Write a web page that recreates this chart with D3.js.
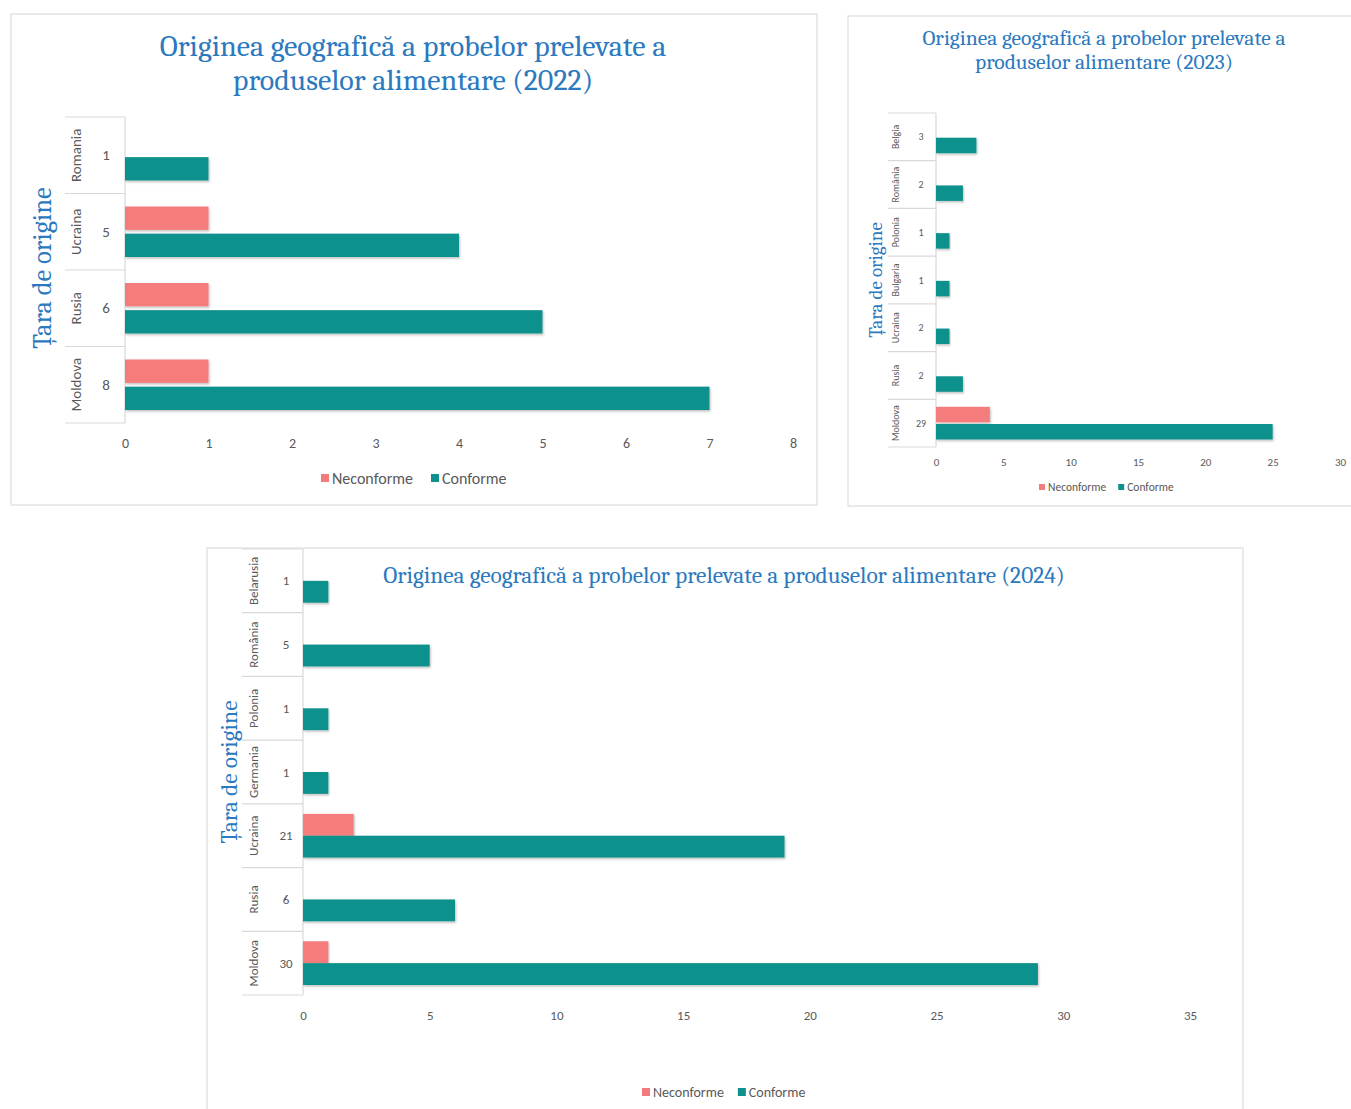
<!DOCTYPE html>
<html>
<head>
<meta charset="utf-8">
<script src="https://cdn.jsdelivr.net/npm/d3@7"></script>
<style>
  body { margin: 0; background: #fff; }
  svg { display: block; }
</style>
</head>
<body>
<script>
// ---- data ----
const series = ["Neconforme", "Conforme"];
const colors = ["#f47b7b", "#0e918c"];

const countries2022 = ["Romania", "Ucraina", "Rusia", "Moldova"];
const totals2022 = [1, 5, 6, 8];
const neconforme2022 = [0, 1, 1, 1];
const conforme2022 = [1, 4, 5, 7];
const ticks2022 = [0, 1, 2, 3, 4, 5, 6, 7, 8];

const countries2023 = ["Belgia", "România", "Polonia", "Bulgaria", "Ucraina", "Rusia", "Moldova"];
const totals2023 = [3, 2, 1, 1, 2, 2, 29];
const neconforme2023 = [0, 0, 0, 0, 0, 0, 4];
const conforme2023 = [3, 2, 1, 1, 1, 2, 25];
const ticks2023 = [0, 5, 10, 15, 20, 25, 30];

const countries2024 = ["Belarusia", "România", "Polonia", "Germania", "Ucraina", "Rusia", "Moldova"];
const totals2024 = [1, 5, 1, 1, 21, 6, 30];
const neconforme2024 = [0, 0, 0, 0, 2, 0, 1];
const conforme2024 = [1, 5, 1, 1, 19, 6, 29];
const ticks2024 = [0, 5, 10, 15, 20, 25, 30, 35];

const svg = d3.select("body").append("svg")
  .attr("width", 1351)
  .attr("height", 1109);

const defs = svg.append("defs");
const shadow = defs.append("filter").attr("id", "shadow")
  .attr("x", "-5%").attr("y", "-20%").attr("width", "110%").attr("height", "160%");
shadow.append("feDropShadow")
  .attr("dx", 1).attr("dy", 1.5).attr("stdDeviation", 1.2)
  .attr("flood-color", "#000").attr("flood-opacity", 0.25);

const serif = "Cambria, 'Liberation Serif', serif";
const sans = "Calibri, 'Open Sans', sans-serif";
const titleColor = "#2b79be";
const textGray = "#595959";

function drawPanel(o) {
  const g = svg.append("g");

  g.append("rect")
    .attr("x", o.box[0]).attr("y", o.box[1])
    .attr("width", o.box[2]).attr("height", o.box[3])
    .attr("fill", "#fff").attr("stroke", "#e3e3e3").attr("stroke-width", 1.5);

  // title
  o.title.forEach((line, i) => {
    g.append("text")
      .attr("x", o.titleX).attr("y", o.titleY + i * o.titleGap)
      .attr("text-anchor", "middle").attr("dominant-baseline", "central")
      .attr("font-family", serif).attr("font-size", o.titleSize)
      .attr("fill", titleColor)
      .text(line);
  });

  // y-axis title
  g.append("text")
    .attr("transform", `translate(${o.yTitleX},${o.yTitleY}) rotate(-90)`)
    .attr("text-anchor", "middle").attr("dominant-baseline", "central")
    .attr("font-family", serif).attr("font-size", o.yTitleSize)
    .attr("fill", titleColor)
    .text("Țara de origine");

  const rows = o.countries.map((c, i) => ({
    country: c, total: o.totals[i], values: [o.neconforme[i], o.conforme[i]]
  }));

  const x = d3.scaleLinear().domain(o.domain).range([o.x0, o.x1]);
  const y = d3.scaleBand().domain(o.countries).range([o.yTop, o.yBottom]);
  const inner = d3.scaleBand().domain(series)
    .range([o.barPad, y.bandwidth() - o.barPad])
    .paddingInner(o.barGap);

  // category table lines
  const bounds = o.countries.map(c => y(c)).concat([o.yBottom]);
  g.selectAll(".rowline").data(bounds).join("line")
    .attr("class", "rowline")
    .attr("x1", o.tableX).attr("x2", o.x0)
    .attr("y1", d => d).attr("y2", d => d)
    .attr("stroke", "#d9d9d9").attr("stroke-width", 1.2);
  g.append("line")
    .attr("x1", o.x0).attr("x2", o.x0)
    .attr("y1", o.yTop).attr("y2", o.yBottom)
    .attr("stroke", "#d9d9d9").attr("stroke-width", 1.2);

  // country names
  g.selectAll(".cname").data(rows).join("text")
    .attr("class", "cname")
    .attr("transform", d => `translate(${o.nameX},${y(d.country) + y.bandwidth() / 2}) rotate(-90)`)
    .attr("text-anchor", "middle").attr("dominant-baseline", "central")
    .attr("font-family", sans).attr("font-size", o.nameSize)
    .attr("fill", textGray)
    .text(d => d.country);

  // totals
  g.selectAll(".total").data(rows).join("text")
    .attr("class", "total")
    .attr("x", o.totalX)
    .attr("y", d => y(d.country) + y.bandwidth() / 2 + o.totalDy)
    .attr("text-anchor", "middle").attr("dominant-baseline", "central")
    .attr("font-family", sans).attr("font-size", o.totalSize)
    .attr("fill", textGray)
    .text(d => d.total);

  // bars
  const groups = g.selectAll(".row").data(rows).join("g")
    .attr("class", "row")
    .attr("transform", d => `translate(0,${y(d.country)})`);
  groups.selectAll("rect")
    .data(d => d.values.map((v, i) => ({ key: series[i], value: v, color: colors[i] })).filter(d => d.value > 0))
    .join("rect")
    .attr("x", x(0))
    .attr("y", d => inner(d.key))
    .attr("width", d => x(d.value) - x(0))
    .attr("height", inner.bandwidth())
    .attr("fill", d => d.color)
    .attr("filter", "url(#shadow)");

  // x axis tick labels
  const axis = d3.axisBottom(x).tickValues(o.ticks).tickSize(0).tickPadding(0);
  const ax = g.append("g")
    .attr("transform", `translate(0,${o.tickY})`)
    .call(axis);
  ax.select(".domain").remove();
  ax.selectAll("text")
    .attr("dy", null)
    .attr("dominant-baseline", "central")
    .attr("font-family", sans).attr("font-size", o.tickSize)
    .attr("fill", textGray);

  // legend
  const lg = g.append("g").attr("transform", `translate(${o.legendX},${o.legendY})`);
  let cx = 0;
  series.forEach((s, i) => {
    lg.append("rect")
      .attr("x", cx).attr("y", -o.legendSq / 2)
      .attr("width", o.legendSq).attr("height", o.legendSq)
      .attr("fill", colors[i]);
    const t = lg.append("text")
      .attr("x", cx + o.legendSq + 3).attr("y", 0)
      .attr("dominant-baseline", "central")
      .attr("font-family", sans).attr("font-size", o.legendSize)
      .attr("fill", textGray)
      .text(s);
    cx += o.legendSq + 3 + t.node().getComputedTextLength() + o.legendGap;
  });
}

drawPanel({
  box: [11, 14, 806, 491],
  title: ["Originea geografică a probelor prelevate a", "produselor alimentare (2022)"],
  titleX: 413, titleY: 46, titleGap: 34, titleSize: 30,
  yTitleX: 42, yTitleY: 268, yTitleSize: 26.5,
  countries: countries2022, totals: totals2022,
  neconforme: neconforme2022, conforme: conforme2022,
  domain: [0, 8], ticks: ticks2022,
  x0: 125, x1: 793, yTop: 117, yBottom: 423,
  barPad: 13, barGap: 0.14,
  tableX: 65, nameX: 76, nameSize: 15, totalX: 106, totalSize: 15, totalDy: 0,
  tickY: 443, tickSize: 14,
  legendX: 321, legendY: 478, legendSq: 8, legendSize: 16, legendGap: 18
});

drawPanel({
  box: [848, 16, 520, 490],
  title: ["Originea geografică a probelor prelevate a", "produselor alimentare (2023)"],
  titleX: 1104, titleY: 38, titleGap: 24, titleSize: 21.5,
  yTitleX: 876, yTitleY: 280, yTitleSize: 19,
  countries: countries2023, totals: totals2023,
  neconforme: neconforme2023, conforme: conforme2023,
  domain: [0, 30], ticks: ticks2023,
  x0: 936, x1: 1340, yTop: 113, yBottom: 447,
  barPad: 7.5, barGap: 0.1,
  tableX: 888, nameX: 895, nameSize: 10, totalX: 921, totalSize: 10, totalDy: 0,
  tickY: 462, tickSize: 11,
  legendX: 1039, legendY: 487, legendSq: 6, legendSize: 11.5, legendGap: 12
});

drawPanel({
  box: [207, 548, 1036, 580],
  title: ["Originea geografică a probelor prelevate a produselor alimentare (2024)"],
  titleX: 724, titleY: 575, titleGap: 0, titleSize: 23.4,
  yTitleX: 229, yTitleY: 772, yTitleSize: 23.5,
  countries: countries2024, totals: totals2024,
  neconforme: neconforme2024, conforme: conforme2024,
  domain: [0, 35], ticks: ticks2024,
  x0: 303, x1: 1190, yTop: 549, yBottom: 995,
  barPad: 10, barGap: 0,
  tableX: 242, nameX: 253, nameSize: 13, totalX: 286, totalSize: 13, totalDy: 0,
  tickY: 1015, tickSize: 13,
  legendX: 642, legendY: 1092, legendSq: 8, legendSize: 14, legendGap: 14
});
</script>
</body>
</html>
